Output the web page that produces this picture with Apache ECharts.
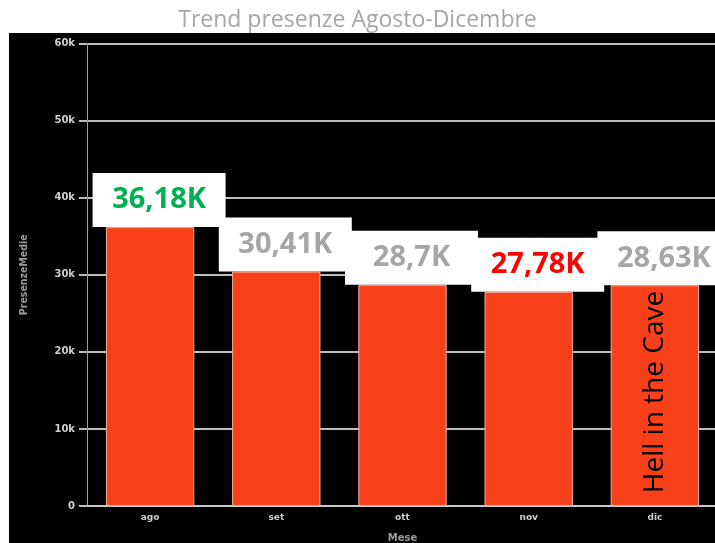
<!DOCTYPE html>
<html>
<head>
<meta charset="utf-8">
<script src="https://cdn.jsdelivr.net/npm/echarts@6/dist/echarts.min.js"></script>
<style>
html,body{margin:0;padding:0;background:#fff;}
#main{width:715px;height:543px;}
</style>
</head>
<body>
<div id="main"></div>
<script>
const categories = ['ago', 'set', 'ott', 'nov', 'dic'];
const presenzeMedie = [36180, 30410, 28700, 27780, 28630];
const labelColors = ['#00B050', '#A6A6A6', '#A6A6A6', '#FF0000', '#A6A6A6'];
const annotationText = 'Hell in the Cave';
const annotationCategory = 'dic';

const chart = echarts.init(document.getElementById('main'), null, {renderer: 'canvas'});

function fmtK(v) {
  return String(Math.round(v / 10) / 100).replace('.', ',') + 'K';
}

const option = {
  backgroundColor: '#ffffff',
  animation: false,
  title: {
    text: 'Trend presenze Agosto-Dicembre',
    left: 'center',
    top: 4,
    textStyle: {
      fontFamily: 'Open Sans',
      fontWeight: 'normal',
      fontSize: 23,
      color: '#A6A6A6'
    }
  },
  graphic: [{
    type: 'rect',
    z: -10,
    silent: true,
    shape: {x: 9, y: 33, width: 706, height: 510},
    style: {fill: '#000000'}
  }],
  grid: {left: 87, top: 43.5, width: 631, bottom: 37, containLabel: false, outerBoundsMode: 'none'},
  xAxis: {
    type: 'category',
    data: categories,
    name: 'Mese',
    nameLocation: 'middle',
    nameGap: 27,
    nameTextStyle: {fontFamily: 'DejaVu Sans', fontWeight: 'bold', fontSize: 10, color: '#9a9a9a'},
    axisLine: {lineStyle: {color: '#c8c8c8', width: 2}},
    axisTick: {show: false},
    axisLabel: {fontFamily: 'DejaVu Sans', fontWeight: 'bold', fontSize: 9, color: '#cfcfcf', margin: 7}
  },
  yAxis: {
    type: 'value',
    min: 0,
    max: 60000,
    interval: 10000,
    name: 'PresenzeMedie',
    nameLocation: 'middle',
    nameGap: 57,
    nameTextStyle: {fontFamily: 'DejaVu Sans Condensed', fontWeight: 'bold', fontSize: 10.5, color: '#9a9a9a'},
    axisLine: {show: true, lineStyle: {color: '#9a9a9a', width: 1}},
    axisTick: {show: true, length: 8, lineStyle: {color: '#bdbdbd', width: 2}},
    axisLabel: {
      fontFamily: 'DejaVu Sans', fontWeight: 'bold', fontSize: 10, color: '#cfcfcf', margin: 12,
      formatter: v => (v === 0 ? '0' : (v / 1000) + 'k')
    },
    splitLine: {lineStyle: {color: '#bdbdbd', width: 2}}
  },
  series: [{
    type: 'bar',
    barCategoryGap: '30%',
    itemStyle: {color: '#F8411A', borderColor: '#f5b09a', borderWidth: 1},
    data: presenzeMedie.map((v, i) => ({
      value: v,
      label: {color: labelColors[i]}
    })),
    label: {
      show: true,
      position: 'top',
      distance: 0,
      offset: [9, 0],
      formatter: p => fmtK(p.value),
      backgroundColor: '#ffffff',
      width: 133,
      height: 54,
      lineHeight: 54,
      padding: 0,
      align: 'center',
      fontFamily: 'Open Sans',
      fontWeight: 'bold',
      fontSize: 29
    },
    markPoint: {
      symbol: 'circle',
      symbolSize: 1,
      silent: true,
      z: 10,
      itemStyle: {color: 'rgba(0,0,0,0)'},
      data: [{
        coord: [annotationCategory, 0],
        label: {
          show: true,
          formatter: annotationText,
          rotate: 90,
          position: 'inside',
          offset: [114, 0],
          color: '#000000',
          fontFamily: 'Open Sans',
          fontWeight: 'normal',
          fontSize: 28
        }
      }]
    }
  }]
};

chart.setOption(option);
</script>
</body>
</html>
